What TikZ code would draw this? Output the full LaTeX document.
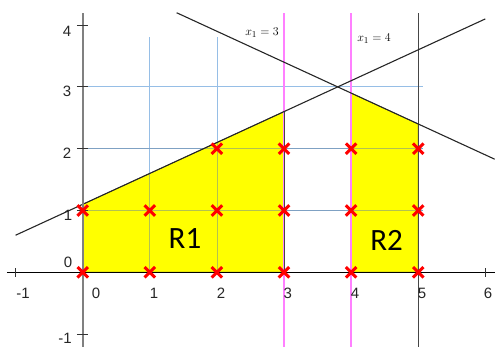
\documentclass[tikz,border=0pt]{standalone}
\usepackage{fontspec}
\setmainfont{Liberation Sans}
\newfontfamily\rfont{Carlito}
\usetikzlibrary{shapes.misc}
\definecolor{gridblue}{RGB}{150,190,230}
\definecolor{pinkline}{RGB}{255,128,255}
\definecolor{regionyellow}{RGB}{255,255,0}
\definecolor{axisgray}{RGB}{128,128,128}
\definecolor{darkline}{RGB}{70,70,70}
\tikzset{
  gridline/.style={gridblue, line width=0.8pt},
  overgrid/.style={gridblue!70!black, line width=0.8pt, opacity=0.5},
  constraint/.style={black!85, line width=1.1pt},
  pinkv/.style={pinkline, line width=1.3pt},
  region/.style={fill=regionyellow, draw=darkline, line width=0.6pt},
  xmark/.style={cross out, draw=red, line width=3pt, minimum size=7.5pt, inner sep=0pt},
  ticklab/.style={font=\fontsize{15}{17}\selectfont, text=black!85, inner sep=0pt},
  rlab/.style={font=\rfont\fontsize{31}{34}\selectfont, inner sep=0pt},
  eqlab/.style={font=\fontsize{13}{15}\selectfont, inner sep=0pt},
  tickmark/.style={black!80, line width=0.8pt}
}
\begin{document}
\begin{tikzpicture}[x=67.1pt, y=61.8pt]
\useasboundingbox (-1.2325,-1.2087) rectangle (6.1446,4.4061);
% grid (behind)
\draw[gridline] (1,0) -- (1,3.81);
\draw[gridline] (2,0) -- (2,3.81);
\draw[gridline] (0,3) -- (5.07,3);
\draw[gridline] (0,2) -- (5.07,2);
\draw[gridline] (0,1) -- (5.07,1);
% regions
\path[region] (0,0) -- (0,1.1) -- (3,2.6) -- (3,0) -- cycle;
\path[region] (4,0) -- (4,2.9) -- (5,2.4) -- (5,0) -- cycle;
% grid over yellow
\draw[overgrid] (1,0) -- (1,1.6);
\draw[overgrid] (2,0) -- (2,2.1);
\draw[overgrid] (0,2) -- (5.07,2);
\draw[overgrid] (0,1) -- (5.07,1);
% vertical constraint lines
\draw[pinkv] (3,-1.21) -- (3,4.2);
\draw[pinkv] (4,-1.21) -- (4,4.2);
\draw[darkline, line width=1.4pt] (5,-1.21) -- (5,4.2);
% region edges over lines
\draw[darkline, line width=0.6pt] (3,0) -- (3,2.6);
% sloped constraint lines
\draw[constraint] (-1,0.6) -- (6,4.1);
\draw[constraint] (1.4,4.2) -- (6.14,1.83);
% axes
\draw[black, line width=1.1pt] (-1.13,0) -- (6.15,0);
\draw[axisgray, line width=1.8pt] (0,-1.21) -- (0,4.2);
% ticks
\foreach \t in {-1,1,2,3,4} \draw[tickmark] (-0.085,\t) -- (0.085,\t);
\foreach \t in {-1,6} \draw[tickmark] (\t,-0.07) -- (\t,0.07);
% tick labels
\node[ticklab] (y4) at (-0.234,3.905) {4};
\node[ticklab] (y3) at (-0.234,2.933) {3};
\node[ticklab] (y2) at (-0.234,1.930) {2};
\node[ticklab] (y1) at (-0.220,0.927) {1};
\node[ticklab] (y0) at (-0.220,0.167) {0};
\node[ticklab] (ym1) at (-0.264,-1.063) {-1};
\node[ticklab] (xm1) at (-0.889,-0.335) {-1};
\node[ticklab] (x0) at (0.198,-0.335) {0};
\node[ticklab] (x1) at (1.063,-0.335) {1};
\node[ticklab] (x2) at (2.061,-0.335) {2};
\node[ticklab] (x3) at (3.058,-0.335) {3};
\node[ticklab] (x4) at (4.057,-0.335) {4};
\node[ticklab] (x5) at (5.057,-0.335) {5};
\node[ticklab] (x6) at (6.040,-0.335) {6};
% equation labels
\node[eqlab] (eq3) at (2.672,3.872) {$x_1=3$};
\node[eqlab] (eq4) at (4.342,3.775) {$x_1=4$};
% region labels
\node[rlab] (R1) at (1.524,0.539) {R1};
\node[rlab] (R2) at (4.530,0.523) {R2};
% integer points
\foreach \px/\py [count=\i] in {0/0,1/0,2/0,3/0,4/0,5/0,0/1,1/1,2/1,3/1,4/1,5/1,2/2,3/2,4/2,5/2}
  \node[xmark] (p\i) at (\px,\py) {};
\end{tikzpicture}
\end{document}
